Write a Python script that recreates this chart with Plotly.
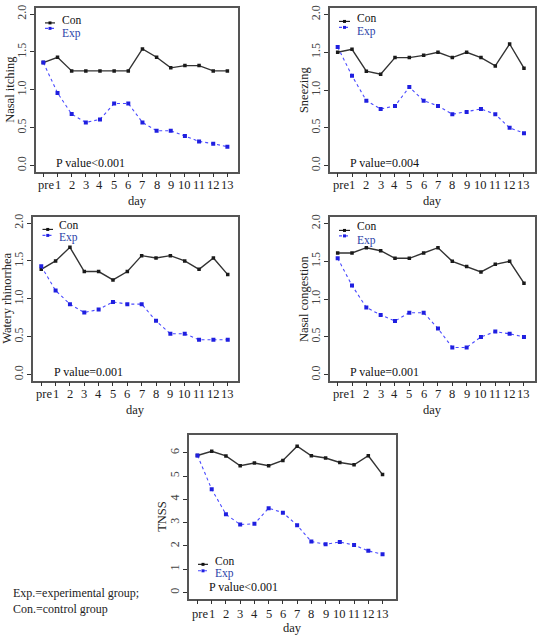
import plotly.graph_objects as go

W, H = 545, 638
days = ["pre", "1", "2", "3", "4", "5", "6", "7", "8", "9", "10", "11", "12", "13"]

nasal_itching_con = [1.36, 1.43, 1.25, 1.25, 1.25, 1.25, 1.25, 1.54, 1.43, 1.29, 1.32, 1.32, 1.25, 1.25]
nasal_itching_exp = [1.36, 0.96, 0.68, 0.57, 0.61, 0.82, 0.82, 0.57, 0.46, 0.46, 0.39, 0.32, 0.29, 0.25]

sneezing_con = [1.50, 1.54, 1.25, 1.21, 1.43, 1.43, 1.46, 1.50, 1.43, 1.50, 1.43, 1.32, 1.61, 1.29]
sneezing_exp = [1.57, 1.19, 0.86, 0.75, 0.79, 1.04, 0.86, 0.79, 0.68, 0.71, 0.75, 0.68, 0.50, 0.43]

watery_con = [1.39, 1.50, 1.68, 1.36, 1.36, 1.25, 1.36, 1.57, 1.54, 1.57, 1.50, 1.39, 1.54, 1.32]
watery_exp = [1.43, 1.11, 0.93, 0.82, 0.86, 0.96, 0.93, 0.93, 0.71, 0.54, 0.54, 0.46, 0.46, 0.46]

congestion_con = [1.61, 1.61, 1.68, 1.64, 1.54, 1.54, 1.61, 1.68, 1.50, 1.43, 1.36, 1.46, 1.50, 1.21]
congestion_exp = [1.54, 1.18, 0.89, 0.79, 0.71, 0.82, 0.82, 0.61, 0.36, 0.36, 0.50, 0.57, 0.54, 0.50]

tnss_con = [5.88, 6.06, 5.86, 5.44, 5.56, 5.44, 5.67, 6.28, 5.87, 5.77, 5.58, 5.48, 5.87, 5.06]
tnss_exp = [5.88, 4.43, 3.36, 2.92, 2.95, 3.62, 3.43, 2.89, 2.19, 2.07, 2.17, 2.04, 1.79, 1.64]

titles = ["Nasal itching", "Sneezing", "Watery rhinorrhea", "Nasal congestion", "TNSS"]
p_texts = ["P value&lt;0.001", "P value=0.004", "P value=0.001", "P value=0.001", "P value&lt;0.001"]
con_series = [nasal_itching_con, sneezing_con, watery_con, congestion_con, tnss_con]
exp_series = [nasal_itching_exp, sneezing_exp, watery_exp, congestion_exp, tnss_exp]

# layout (pixel boxes: left, top, right, bottom)
boxes = [(36, 5, 238, 169.5), (329.5, 5.5, 535, 169.5), (32.5, 215, 237.5, 379.5),
         (329.5, 215.5, 535, 379.5), (188.5, 434, 395.5, 598.5)]
xranges = [[-0.52, 13.75], [-0.57, 13.77], [-0.61, 13.68], [-0.57, 13.77], [-0.63, 13.91]]
yranges = [[-0.08, 2.08]] * 4 + [[-0.26, 6.76]]
ytickvals = [[0, 0.5, 1.0, 1.5, 2.0]] * 4 + [[0, 1, 2, 3, 4, 5, 6]]
yfmt = [".1f"] * 4 + ["d"]

# legend/annotation pixel anchors per panel
leg_line_x = [(45, 55), (339, 350), (42.5, 53), (339, 350), (198, 208)]
leg_con_y = [20, 18.5, 227.5, 228.5, 564]
leg_exp_y = [25.5, 24.5, 233.5, 234, 570.5]
leg_txt_x = [60, 355, 57, 355, 213]
leg_con_ty = [17, 15, 223.5, 224.5, 560.5]
leg_exp_ty = [30.5, 28.5, 236, 238.5, 573]
p_pos = [(54, 160.5), (347.5, 160.5), (51.5, 370.5), (347.5, 370.5), (207, 586.5)]
ytitle_x = [10, 304, 7, 304, 162]
tick_y = [183, 183, 393, 393, 614]
day_y = [199, 199, 409, 409, 627.5]

SERIF = "Liberation Serif"
CON_C = "#1a1a1a"
EXP_C = "#1f1fe0"

def fx(p):
    return p / W

def fy(p):
    return 1 - p / H

fig = go.Figure()
layout = dict(width=W, height=H, margin=dict(l=0, r=0, t=0, b=0),
              paper_bgcolor="white", plot_bgcolor="white", showlegend=False,
              font=dict(family=SERIF, size=12, color="#222"))
annotations = []
shapes = []

xvals = list(range(len(days)))
for i in range(5):
    ax = "" if i == 0 else str(i + 1)
    l, t, r, b = boxes[i]
    fig.add_trace(go.Scatter(x=xvals, y=con_series[i], mode="lines+markers",
                             line=dict(color="#333", width=1.4),
                             marker=dict(color=CON_C, size=3.5, symbol="square"),
                             xaxis="x" + ax, yaxis="y" + ax))
    fig.add_trace(go.Scatter(x=xvals, y=exp_series[i], mode="lines+markers",
                             line=dict(color="#4a4aff", width=1.1, dash="dot"),
                             marker=dict(color=EXP_C, size=4, symbol="square"),
                             xaxis="x" + ax, yaxis="y" + ax))
    layout["xaxis" + ax] = dict(domain=[fx(l), fx(r)], range=xranges[i], anchor="y" + ax,
                                tickvals=xvals, ticktext=[""] * len(days), ticks="outside",
                                ticklen=4, tickcolor="#333", showgrid=False, zeroline=False,
                                showline=True, linecolor="#555", linewidth=1.5, mirror=True)
    layout["yaxis" + ax] = dict(domain=[fy(b), fy(t)], range=yranges[i], anchor="x" + ax,
                                tickvals=ytickvals[i], tickformat=yfmt[i], ticks="outside",
                                ticklen=4, tickcolor="#333", tickangle=-90,
                                ticklabelstandoff=-1,
                                tickfont=dict(family=SERIF, size=12, color="#444"),
                                showgrid=False, zeroline=False,
                                showline=True, linecolor="#555", linewidth=1.5, mirror=True)
    # x tick labels as annotations at data positions
    for k, d in enumerate(days):
        annotations.append(dict(x=k, y=fy(tick_y[i]), xref="x" + ax, yref="paper",
                                text=d, showarrow=False, xanchor="center", yanchor="middle",
                                xshift=3 if k == 0 else 0,
                                font=dict(family=SERIF, size=12.5, color="#222")))
    # axis titles
    annotations.append(dict(x=(fx(l) + fx(r)) / 2, y=fy(day_y[i]), xref="paper", yref="paper",
                            text="day", showarrow=False, xanchor="center", yanchor="middle",
                            font=dict(family=SERIF, size=12.5, color="#222")))
    annotations.append(dict(x=fx(ytitle_x[i]), y=(fy(t) + fy(b)) / 2, xref="paper", yref="paper",
                            text=titles[i], textangle=-90, showarrow=False,
                            xanchor="center", yanchor="middle",
                            font=dict(family=SERIF, size=12.5, color="#222")))
    # P value
    px_, py_ = p_pos[i]
    annotations.append(dict(x=fx(px_), y=fy(py_), xref="paper", yref="paper",
                            text=p_texts[i], showarrow=False, xanchor="left", yanchor="middle",
                            font=dict(family=SERIF, size=12, color="#111")))
    # legend
    x0, x1 = leg_line_x[i]
    shapes.append(dict(type="line", xref="paper", yref="paper", x0=fx(x0), x1=fx(x1),
                       y0=fy(leg_con_y[i]), y1=fy(leg_con_y[i]), line=dict(color="#222", width=1.2)))
    shapes.append(dict(type="line", xref="paper", yref="paper", x0=fx(x0), x1=fx(x1),
                       y0=fy(leg_exp_y[i]), y1=fy(leg_exp_y[i]),
                       line=dict(color="#4a4aff", width=1.1, dash="dot")))
    mx = (x0 + x1) / 2
    shapes.append(dict(type="rect", xref="paper", yref="paper", x0=fx(mx - 1.5), x1=fx(mx + 1.5),
                       y0=fy(leg_con_y[i] - 1.5), y1=fy(leg_con_y[i] + 1.5),
                       fillcolor="#111", line=dict(width=0)))
    shapes.append(dict(type="rect", xref="paper", yref="paper", x0=fx(mx - 1.5), x1=fx(mx + 1.5),
                       y0=fy(leg_exp_y[i] - 1.5), y1=fy(leg_exp_y[i] + 1.5),
                       fillcolor=EXP_C, line=dict(width=0)))
    annotations.append(dict(x=fx(leg_txt_x[i]), y=fy(leg_con_ty[i]), xref="paper", yref="paper",
                            text="Con", showarrow=False, xanchor="left", yanchor="middle",
                            font=dict(family=SERIF, size=11.5, color="#111")))
    annotations.append(dict(x=fx(leg_txt_x[i]), y=fy(leg_exp_ty[i]), xref="paper", yref="paper",
                            text="Exp", showarrow=False, xanchor="left", yanchor="middle",
                            font=dict(family=SERIF, size=11.5, color="#2b3fa8")))

annotations.append(dict(x=fx(11), y=fy(593), xref="paper", yref="paper",
                        text="Exp.=experimental group;", showarrow=False,
                        xanchor="left", yanchor="middle",
                        font=dict(family=SERIF, size=12, color="#222")))
annotations.append(dict(x=fx(11), y=fy(609), xref="paper", yref="paper",
                        text="Con.=control group", showarrow=False,
                        xanchor="left", yanchor="middle",
                        font=dict(family=SERIF, size=12, color="#222")))

layout["annotations"] = annotations
layout["shapes"] = shapes
fig.update_layout(**layout)
fig.write_html("out.html")
